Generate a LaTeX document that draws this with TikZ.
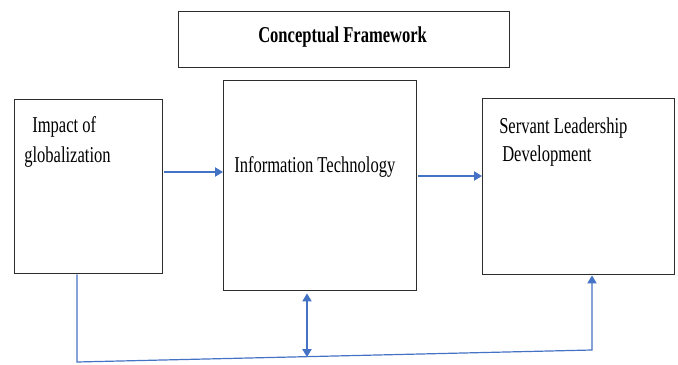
\documentclass[tikz,border=0pt]{standalone}
\usepackage{fontspec}
\setmainfont{Liberation Serif}
\newfontfamily\narrowserif[FakeStretch=0.73]{Liberation Serif}
\usetikzlibrary{arrows.meta}
\definecolor{linkblue}{RGB}{68,114,196}
\definecolor{boxgray}{RGB}{45,45,45}
\tikzset{
  box/.style={draw=boxgray, line width=1.1pt, inner sep=0pt, anchor=north west},
  link/.style={-{Triangle[length=6pt, width=7pt]}, linkblue, line width=0.9pt},
  twoway/.style={{Triangle[length=6pt, width=7pt]}-{Triangle[length=6pt, width=7pt]}, linkblue, line width=0.9pt},
  lbl/.style={font=\narrowserif\fontsize{17}{21}\selectfont, inner sep=0pt, anchor=base west, text=black},
}

\begin{document}
\begin{tikzpicture}[x=0.75pt, y=-0.75pt]
  \useasboundingbox (0,0) rectangle (678,364);
  % boxes
  \node[box, minimum width=248.25pt, minimum height=42pt] (title) at (178,11) {};
  \node[box, minimum width=111pt, minimum height=130.5pt] (impact) at (14,99) {};
  \node[box, minimum width=144.75pt, minimum height=157.5pt] (it) at (223,80) {};
  \node[box, minimum width=144pt, minimum height=132pt] (sl) at (482,98) {};
  % texts
  \node[lbl, font=\narrowserif\bfseries\fontsize{17}{21}\selectfont] (titletxt) at (258,42) {Conceptual Framework};
  \node[lbl] (impacttxtA) at (32,132) {Impact of};
  \node[lbl] (impacttxtB) at (24,162) {globalization};
  \node[lbl] (ittxt) at (234,172) {Information Technology};
  \node[lbl] (sltxtA) at (499,133) {Servant Leadership};
  \node[lbl] (sltxtB) at (502,161) {Development};
  % links
  \coordinate (g2i) at (164,172);
  \coordinate (i2s) at (418,176);
  \draw[link] (g2i) -- (g2i -| it.west);
  \draw[link] (i2s) -- (i2s -| sl.west);
  % feedback line along the bottom
  \coordinate (bl) at (77,362);
  \coordinate (br) at (592,350);
  \coordinate (itb) at (307,357);
  \draw[link] (bl |- impact.south) -- (bl) -- (br) -- (br |- sl.south);
  \draw[twoway, shorten <=1.5pt] (itb |- it.south) -- (itb);
\end{tikzpicture}
\end{document}
